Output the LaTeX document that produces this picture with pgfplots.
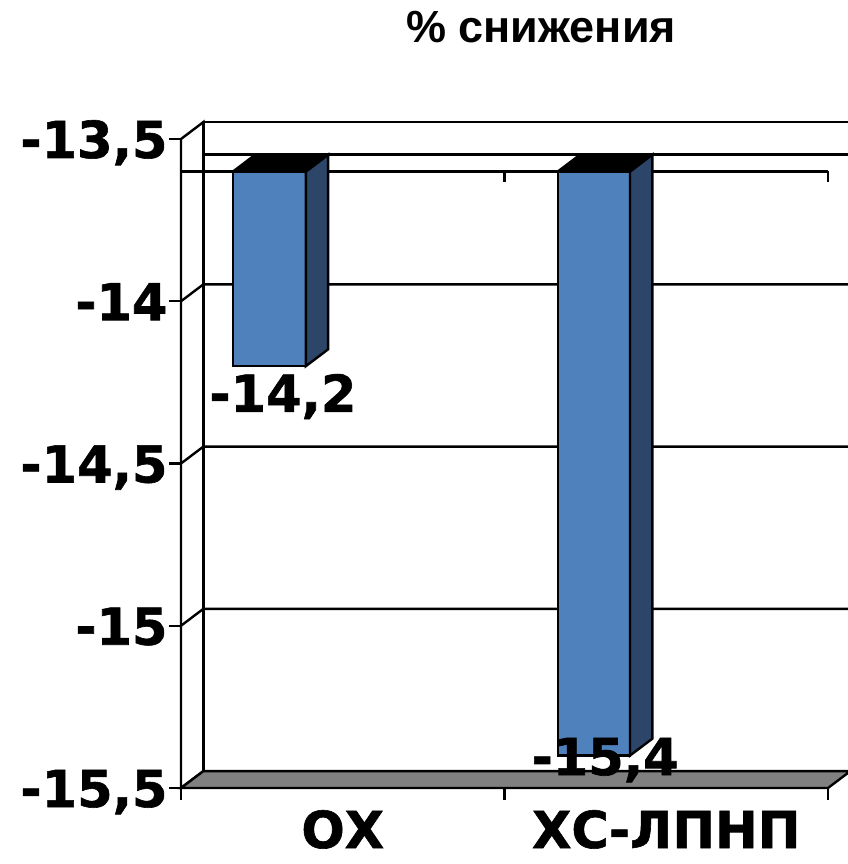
\documentclass[border=0pt]{standalone}
\usepackage{fontspec}
\usepackage{pgfplots}
\pgfplotsset{compat=1.18}
\newfontfamily\dv{DejaVu Sans}[BoldFeatures={FakeBold=1.2}]
\newfontfamily\lib{Liberation Sans}
\definecolor{barfront}{HTML}{4F81BD}
\definecolor{barside}{HTML}{2C4569}
\definecolor{floorgray}{HTML}{808080}
\newcommand\bigfont{\dv\bfseries\fontsize{51bp}{58bp}\selectfont}
\begin{document}
\begin{tikzpicture}
\path[use as bounding box] (0,0) rectangle (848bp,864bp);
\node[anchor=base, font=\lib\bfseries\fontsize{45bp}{52bp}\selectfont] at (541bp,821bp) {\% снижения};
\begin{axis}[
  at={(181bp,76bp)}, anchor=south west,
  scale only axis, width=647bp, height=649bp,
  xmin=0, xmax=2, ymin=-15.5, ymax=-13.5,
  clip=false,
  axis x line*=bottom, axis y line*=left,
  axis line style={line width=2.4bp, black},
  every tick/.style={line width=2.4bp, black},
  tick align=outside, major tick length=12bp,
  ytick={-15.5,-15,-14.5,-14,-13.5},
  xtick={0,1,2}, xticklabels={},
  extra x ticks={0.5,1.5},
  extra x tick labels={ОХ, ХС-ЛПНП},
  extra x tick style={tick style={draw=none}},
  tick label style={font=\bigfont},
  yticklabel style={anchor=base east, yshift=-19bp, xshift=2bp},
  xticklabel style={anchor=base, yshift=-48bp, inner sep=0pt},
  /pgf/number format/.cd, use comma, assume math mode=true,
]
% back wall
\addplot[fill=white, draw=black, line width=2.4bp] coordinates {(0.069,-15.448) (2.069,-15.448) (2.069,-13.448) (0.069,-13.448)} -- cycle;
% left side wall
\addplot[fill=white, draw=black, line width=2.4bp] coordinates {(0,-15.5) (0.069,-15.448) (0.069,-13.448) (0,-13.5)} -- cycle;
% back gridlines
\addplot[black, line width=2.4bp] coordinates {(0,-14) (0.069,-13.948) (2.069,-13.948)};
\addplot[black, line width=2.4bp] coordinates {(0,-14.5) (0.069,-14.448) (2.069,-14.448)};
\addplot[black, line width=2.4bp] coordinates {(0,-15) (0.069,-14.948) (2.069,-14.948)};
\addplot[black, line width=2.4bp] coordinates {(0.069,-13.548) (2.069,-13.548)};
% floor
\addplot[fill=floorgray, draw=black, line width=2.4bp] coordinates {(0,-15.5) (2,-15.5) (2.069,-15.448) (0.069,-15.448)} -- cycle;
% front category line with ticks
\addplot[black, line width=2.4bp] coordinates {(0,-13.6) (2,-13.6)};
\addplot[black, line width=2.4bp] coordinates {(1,-13.6) (1,-13.631)};
\addplot[black, line width=2.4bp] coordinates {(2,-13.6) (2,-13.631)};
% bar OX
\addplot[fill=barfront, draw=black, line width=2.4bp] coordinates {(0.161,-13.6) (0.386,-13.6) (0.386,-14.2) (0.161,-14.2)} -- cycle;
\addplot[fill=barside, draw=black, line width=2.4bp] coordinates {(0.386,-13.6) (0.455,-13.548) (0.455,-14.148) (0.386,-14.2)} -- cycle;
\addplot[fill=black, draw=black, line width=2.4bp] coordinates {(0.161,-13.6) (0.386,-13.6) (0.455,-13.548) (0.230,-13.548)} -- cycle;
% bar XC-LDL
\addplot[fill=barfront, draw=black, line width=2.4bp] coordinates {(1.165,-13.6) (1.388,-13.6) (1.388,-15.4) (1.165,-15.4)} -- cycle;
\addplot[fill=barside, draw=black, line width=2.4bp] coordinates {(1.388,-13.6) (1.457,-13.548) (1.457,-15.348) (1.388,-15.4)} -- cycle;
\addplot[fill=black, draw=black, line width=2.4bp] coordinates {(1.165,-13.6) (1.388,-13.6) (1.457,-13.548) (1.234,-13.548)} -- cycle;
% value labels
\node[anchor=base, font=\bigfont] at (axis cs:0.315,-14.341) {-14,2};
\node[anchor=base, font=\bigfont] at (axis cs:1.311,-15.46) {-15,4};
\end{axis}
\end{tikzpicture}
\end{document}
